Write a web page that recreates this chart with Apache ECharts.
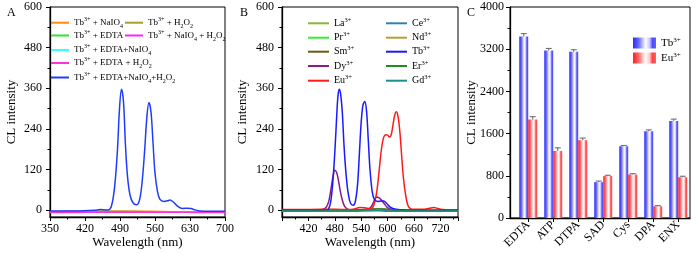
<!DOCTYPE html>
<html><head><meta charset="utf-8">
<script src="https://cdn.jsdelivr.net/npm/echarts@6/dist/echarts.min.js"></script>
<style>html,body{margin:0;padding:0;background:#fff}#c{width:700px;height:254px}</style>
</head><body><div id="c"></div>
<script>
// ---------- Panel A data ----------
const aWaveBase = [350, 400, 450, 500, 550, 600, 650, 700];
const aTbNaIO4 = [-4, -4, -3, -3, -3, -4, -4, -4];
const aTbH2O2 = [-4, -3, -3, -3, -4, -4, -4, -4];
const aTbEDTA = [-5, -5, -4, -4, -4, -5, -5, -5];
const aTbNaIO4H2O2 = [-6, -6, -5, -5, -5, -6, -6, -6];
const aTbEDTANaIO4 = [-5, -4, -4, -4, -4, -5, -5, -5];
const aTbEDTAH2O2 = [-7, -7, -6, -6, -6, -6, -7, -7];
const aWaveMain = [350,400,440,450,465,470,475,480,485,489,493,497,501,505,510,516,523,529,534,539,544,548,552,556,560,565,570,578,585,590,596,605,615,625,632,640,650,700];
const aTbAll = [-2,-2,0,2,1,3,25,80,180,300,357,320,190,100,45,22,16,30,80,170,280,318,290,200,110,55,32,26,28,30,25,12,5,6,5,1,-2,-3];
const aYTicks = [0, 120, 240, 360, 480, 600];
const aYMinor = [60, 180, 300, 420, 540];

// ---------- Panel B data ----------
const bWaveBase = [360, 420, 480, 520, 560, 580, 600, 640, 700, 760];
const bLa = [-1, -1, -1, 0, 0, 1, 0, -1, -1, -1];
const bPr = [-2, -2, -1, -1, 0, 0, -1, -1, -2, -2];
const bSm = [-1, -1, -1, 0, 3, 5, 3, 0, -1, -1];
const bCe = [-2, -2, -2, -1, -1, 0, -1, -2, -2, -2];
const bNd = [-1, -1, 0, 0, 2, 3, 2, 0, -1, -1];
const bEr = [-2, -2, -2, -1, 2, 4, 2, -1, -2, -2];
const bGd = [-3, -3, -3, -3, -2, -2, -3, -3, -3, -3];
const bWaveTb = [360,440,462,465,470,475,480,484,487,490,493,497,501,506,511,516,522,527,532,536,540,544,548,552,556,560,565,570,578,585,591,598,605,612,620,635,660,760];
const bTb = [0,0,0,2,20,75,170,270,335,357,345,290,190,100,45,20,15,28,80,170,260,310,321,295,210,120,55,32,26,27,27,20,10,5,3,1,0,0];
const bWaveDy = [360,440,452,460,466,471,476,480,484,488,492,497,502,508,515,530,550,560,566,571,575,580,586,592,598,606,620,700,760];
const bDy = [0,0,2,8,25,60,100,118,112,90,60,30,12,4,1,1,2,6,18,32,39,37,30,20,10,3,0,0,0];
const bWaveEu = [360,400,450,480,510,525,536,548,560,566,571,576,581,586,591,596,600,604,608,612,616,620,624,628,632,636,641,646,652,660,680,695,705,715,725,740,760];
const bEu = [2,2,3,3,2,4,8,7,4,8,25,60,120,180,215,223,222,216,222,250,280,291,275,230,160,95,45,15,5,3,3,6,8,5,2,1,1];
const bXLabels = [420, 480, 540, 600, 660, 720];

// ---------- Panel C data ----------
const cCats = ['EDTA', 'ATP', 'DTPA', 'SAD', 'Cys', 'DPA', 'ENX'];
const cTb = [3440, 3175, 3150, 680, 1360, 1645, 1840];
const cEu = [1865, 1270, 1475, 795, 825, 222, 772];
const cTbErr = [55, 40, 40, 20, 15, 25, 35];
const cEuErr = [55, 60, 40, 15, 15, 12, 20];

const FONT = 'Liberation Serif';
const chart = echarts.init(document.getElementById('c'), null, {renderer: 'canvas'});

function rich(name) {
  return name.replace(/\^\{([^}]*)\}/g, '{s|$1}').replace(/_\{([^}]*)\}/g, '{b|$1}');
}
function richStyles(sz) {
  return {
    s: {fontSize: sz, fontFamily: FONT, verticalAlign: 'top', color: '#000'},
    b: {fontSize: sz, fontFamily: FONT, verticalAlign: 'bottom', color: '#000'}
  };
}
function legendItem(name, left, cy, w, h, fs, sfs) {
  return {
    data: [name], left: left, top: cy - 6.5, padding: 0, orient: 'horizontal',
    itemWidth: w, itemHeight: h, icon: 'rect', selectedMode: false,
    formatter: rich,
    textStyle: {fontFamily: FONT, fontSize: fs, lineHeight: 13, color: '#000', rich: richStyles(sfs)}
  };
}

const axisCommon = {
  axisLine: {show: true, onZero: false, lineStyle: {color: '#000', width: 1.3}},
  axisTick: {show: true, inside: false, length: 4, lineStyle: {color: '#000', width: 1}},
  axisLabel: {color: '#000', fontFamily: FONT, fontSize: 12},
  splitLine: {show: false},
  nameMoveOverlap: false,
  nameTextStyle: {color: '#000', fontFamily: FONT, fontSize: 13}
};
function xLine(grid, min, max, interval, extra) {
  return Object.assign({}, axisCommon, {
    type: 'value', gridIndex: grid, min: min, max: max, interval: interval,
    name: 'Wavelength (nm)', nameLocation: 'middle', nameGap: 19,
    minorTick: {show: true, splitNumber: 2, length: 2.5, lineStyle: {color: '#000'}},
    axisLabel: Object.assign({}, axisCommon.axisLabel, {margin: 6})
  }, extra || {});
}
function yMain(grid, min, max, ticks, gap) {
  return Object.assign({}, axisCommon, {
    type: 'value', gridIndex: grid, min: min, max: max,
    name: 'CL intensity', nameLocation: 'middle', nameGap: gap,
    axisTick: Object.assign({}, axisCommon.axisTick, {customValues: ticks}),
    axisLabel: Object.assign({}, axisCommon.axisLabel, {customValues: ticks, margin: 8})
  });
}
function yMinor(grid, min, max, ticks) {
  return {
    type: 'value', gridIndex: grid, min: min, max: max, position: 'left',
    axisLine: {show: false}, axisLabel: {show: false}, splitLine: {show: false},
    axisTick: {show: true, length: 2.5, customValues: ticks, lineStyle: {color: '#000'}}
  };
}
function lineSeries(name, xi, yi, xs, ys, color, width) {
  return {
    type: 'line', name: name, xAxisIndex: xi, yAxisIndex: yi, smooth: 0.35,
    showSymbol: false, symbol: 'none', animation: false,
    lineStyle: {color: color, width: width || 1.3}, itemStyle: {color: color},
    data: xs.map((x, i) => [x, ys[i]])
  };
}

const nA = {
  naio4: 'Tb^{3+} + NaIO_{4}', h2o2: 'Tb^{3+} + H_{2}O_{2}', edta: 'Tb^{3+} + EDTA',
  naio4h2o2: 'Tb^{3+} + NaIO_{4} + H_{2}O_{2}', edtanaio4: 'Tb^{3+} + EDTA+NaIO_{4}',
  edtah2o2: 'Tb^{3+} + EDTA + H_{2}O_{2}', all: 'Tb^{3+} + EDTA+NaIO_{4}+H_{2}O_{2}'
};
const nB = {La: 'La^{3+}', Pr: 'Pr^{3+}', Sm: 'Sm^{3+}', Dy: 'Dy^{3+}', Eu: 'Eu^{3+}',
  Ce: 'Ce^{3+}', Nd: 'Nd^{3+}', Tb: 'Tb^{3+}', Er: 'Er^{3+}', Gd: 'Gd^{3+}'};
const colA = {naio4: '#ff8a1c', h2o2: '#a8a024', edta: '#33e033', naio4h2o2: '#ff22ff',
  edtanaio4: '#33ffff', edtah2o2: '#ff33dd', all: '#1f3cff'};
const colB = {La: '#8cb43c', Pr: '#33ee33', Sm: '#6b5b10', Dy: '#8b1a8b', Eu: '#ff1a1a',
  Ce: '#2f7fb8', Nd: '#b8a030', Tb: '#1a1aff', Er: '#228b22', Gd: '#1a9090'};

function grad(c0, c1, c2, c3) {
  return new echarts.graphic.LinearGradient(0, 0, 1, 0, [
    {offset: 0, color: c0}, {offset: 0.22, color: c1}, {offset: 0.55, color: '#ffffff'},
    {offset: 0.72, color: c3}, {offset: 0.85, color: c2}, {offset: 1, color: c1}]);
}
const tbGrad = () => grad('#2a2aff', '#6060ff', '#4a4aff', '#c8c8ff');
const euGrad = () => grad('#ff2020', '#ff6060', '#ff4040', '#ffc8c8');

function errSeries(name, vals, errs, dx) {
  return {
    type: 'custom', name: name + '_err', xAxisIndex: 2, yAxisIndex: 4, animation: false, z: 5,
    data: vals.map((v, i) => [i + 1, v, errs[i]]),
    encode: {x: 0, y: 1},
    renderItem: function (params, api) {
      const top = api.coord([api.value(0), api.value(1) + api.value(2)]);
      const base = api.coord([api.value(0), api.value(1)]);
      const x = top[0] + dx;
      return {type: 'group', children: [
        {type: 'line', shape: {x1: x, y1: base[1], x2: x, y2: top[1]}, style: {stroke: '#666', lineWidth: 1}},
        {type: 'line', shape: {x1: x - 3, y1: top[1], x2: x + 3, y2: top[1]}, style: {stroke: '#666', lineWidth: 1}}
      ]};
    }
  };
}

const option = {
  animation: false,
  textStyle: {fontFamily: FONT},
  grid: [
    {left: 50, top: 7, width: 175, height: 211, show: true, borderColor: '#000', borderWidth: 1},
    {left: 282, top: 7, width: 176, height: 211, show: true, borderColor: '#000', borderWidth: 1},
    {left: 510, top: 7, width: 180, height: 211, show: true, borderColor: '#000', borderWidth: 1}
  ],
  xAxis: [
    xLine(0, 350, 700, 70),
    xLine(1, 360, 760, 60, {axisLabel: Object.assign({}, axisCommon.axisLabel, {margin: 6, customValues: bXLabels})}),
    Object.assign({}, axisCommon, {
      type: 'value', gridIndex: 2, min: 0.27, max: 7.47,
      axisTick: Object.assign({}, axisCommon.axisTick, {customValues: cCats.map((c, i) => i + 1)}),
      axisLabel: Object.assign({}, axisCommon.axisLabel, {
        customValues: cCats.map((c, i) => i + 1), rotate: 45, margin: 5,
        formatter: v => cCats[Math.round(v) - 1] || ''
      })
    })
  ],
  yAxis: [
    yMain(0, -20, 600, aYTicks, 32),
    yMinor(0, -20, 600, aYMinor),
    yMain(1, -20, 600, aYTicks, 33),
    yMinor(1, -20, 600, aYMinor),
    Object.assign({}, axisCommon, {
      type: 'value', gridIndex: 2, min: 0, max: 4000, interval: 800,
      name: 'CL intensity', nameLocation: 'middle', nameGap: 32,
      minorTick: {show: true, splitNumber: 2, length: 2.5, lineStyle: {color: '#000'}},
      axisLabel: Object.assign({}, axisCommon.axisLabel, {margin: 6, formatter: v => String(v)})
    })
  ],
  legend: [
    legendItem(nA.naio4, 51, 22.7, 18, 2, 9, 6),
    legendItem(nA.edta, 51, 35.5, 18, 2, 9, 6),
    legendItem(nA.edtanaio4, 51, 50, 18, 2, 9, 6),
    legendItem(nA.edtah2o2, 51, 63, 18, 2, 9, 6),
    legendItem(nA.all, 51, 77.5, 18, 2, 9, 6),
    legendItem(nA.h2o2, 125, 22.7, 18, 2, 9, 6),
    legendItem(nA.naio4h2o2, 125, 35.5, 18, 2, 9, 6),
    legendItem(nB.La, 308, 23.3, 21, 2, 10, 6.5),
    legendItem(nB.Pr, 308, 37.7, 21, 2, 10, 6.5),
    legendItem(nB.Sm, 308, 51.7, 21, 2, 10, 6.5),
    legendItem(nB.Dy, 308, 66, 21, 2, 10, 6.5),
    legendItem(nB.Eu, 308, 80.7, 21, 2, 10, 6.5),
    legendItem(nB.Ce, 386, 23.3, 21, 2, 10, 6.5),
    legendItem(nB.Nd, 386, 37.7, 21, 2, 10, 6.5),
    legendItem(nB.Tb, 386, 51.7, 21, 2, 10, 6.5),
    legendItem(nB.Er, 386, 66, 21, 2, 10, 6.5),
    legendItem(nB.Gd, 386, 80.7, 21, 2, 10, 6.5),
    Object.assign(legendItem('Tb^{3+}', 633, 43, 23, 11, 11, 7), {itemStyle: {color: tbGrad()}}),
    Object.assign(legendItem('Eu^{3+}', 633, 58, 23, 11, 11, 7), {itemStyle: {color: euGrad()}})
  ],
  graphic: [
    {type: 'text', left: 7, top: 7, style: {text: 'A', font: '12px "Liberation Serif"', fill: '#000'}},
    {type: 'text', left: 240, top: 7, style: {text: 'B', font: '12px "Liberation Serif"', fill: '#000'}},
    {type: 'text', left: 467, top: 7, style: {text: 'C', font: '12px "Liberation Serif"', fill: '#000'}}
  ],
  series: [
    lineSeries(nA.naio4, 0, 0, aWaveBase, aTbNaIO4, colA.naio4),
    lineSeries(nA.h2o2, 0, 0, aWaveBase, aTbH2O2, colA.h2o2),
    lineSeries(nA.edta, 0, 0, aWaveBase, aTbEDTA, colA.edta),
    lineSeries(nA.edtanaio4, 0, 0, aWaveBase, aTbEDTANaIO4, colA.edtanaio4),
    lineSeries(nA.naio4h2o2, 0, 0, aWaveBase, aTbNaIO4H2O2, colA.naio4h2o2),
    lineSeries(nA.edtah2o2, 0, 0, aWaveBase, aTbEDTAH2O2, colA.edtah2o2),
    lineSeries(nA.all, 0, 0, aWaveMain, aTbAll, colA.all, 1.5),

    lineSeries(nB.La, 1, 2, bWaveBase, bLa, colB.La),
    lineSeries(nB.Pr, 1, 2, bWaveBase, bPr, colB.Pr),
    lineSeries(nB.Sm, 1, 2, bWaveBase, bSm, colB.Sm),
    lineSeries(nB.Ce, 1, 2, bWaveBase, bCe, colB.Ce),
    lineSeries(nB.Nd, 1, 2, bWaveBase, bNd, colB.Nd),
    lineSeries(nB.Dy, 1, 2, bWaveDy, bDy, colB.Dy, 1.5),
    lineSeries(nB.Eu, 1, 2, bWaveEu, bEu, colB.Eu, 1.5),
    lineSeries(nB.Tb, 1, 2, bWaveTb, bTb, colB.Tb, 1.5),
    lineSeries(nB.Er, 1, 2, bWaveBase, bEr, colB.Er),
    lineSeries(nB.Gd, 1, 2, bWaveBase, bGd, colB.Gd),

    {type: 'bar', name: 'Tb^{3+}', xAxisIndex: 2, yAxisIndex: 4, barWidth: 9, barGap: '0%',
     itemStyle: {color: tbGrad()}, data: cTb.map((v, i) => [i + 1, v])},
    {type: 'bar', name: 'Eu^{3+}', xAxisIndex: 2, yAxisIndex: 4, barWidth: 9, barGap: '0%',
     itemStyle: {color: euGrad()}, data: cEu.map((v, i) => [i + 1, v])},
    errSeries('Tb', cTb, cTbErr, -4.5),
    errSeries('Eu', cEu, cEuErr, 4.5)
  ]
};
chart.setOption(option);
</script></body></html>
